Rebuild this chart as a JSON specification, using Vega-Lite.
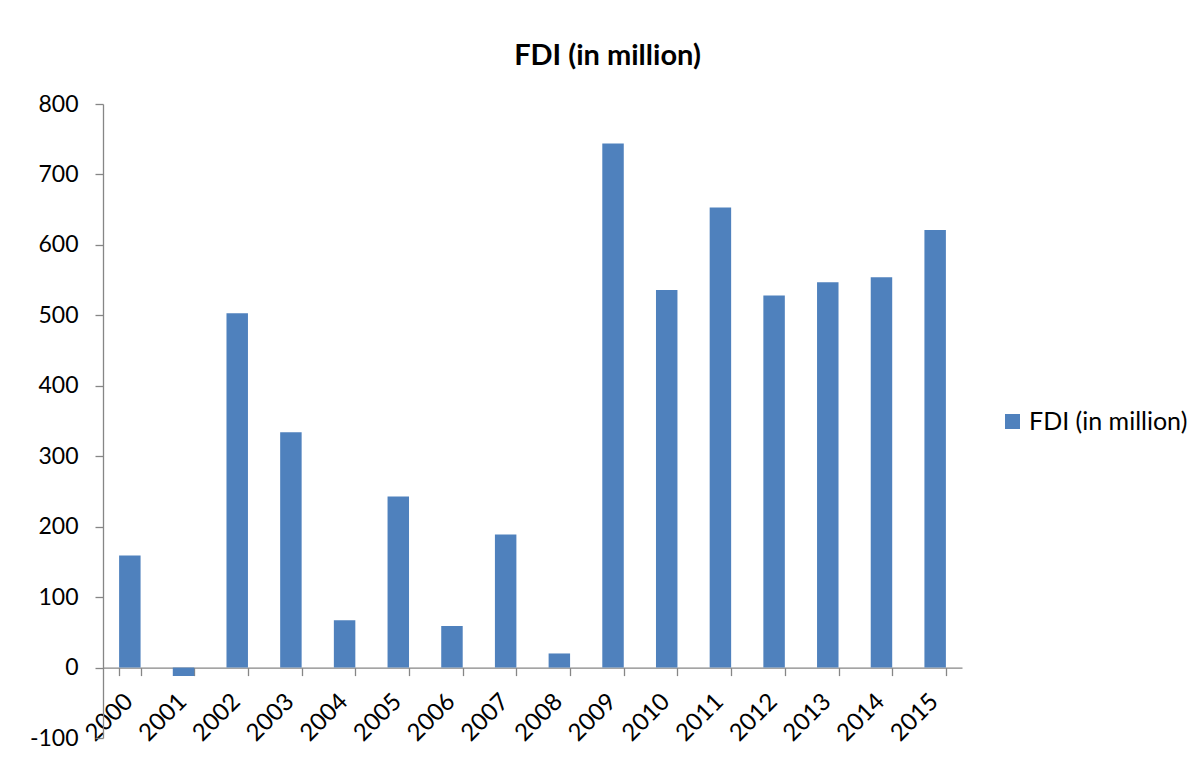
{
  "$schema": "https://vega.github.io/schema/vega-lite/v6.json",
  "width": 859,
  "height": 634,
  "autosize": {"type": "none"},
  "padding": {"left": 103, "top": 104, "right": 234, "bottom": 21},
  "background": "white",
  "title": {
    "text": "FDI (in million)",
    "font": "Lato",
    "fontSize": 29,
    "fontWeight": "bold",
    "color": "#000000",
    "anchor": "middle",
    "dx": 75,
    "offset": 22
  },
  "data": {
    "values": [
      {"year": "2000", "series": "FDI (in million)", "value": 159},
      {"year": "2001", "series": "FDI (in million)", "value": -12},
      {"year": "2002", "series": "FDI (in million)", "value": 503},
      {"year": "2003", "series": "FDI (in million)", "value": 334},
      {"year": "2004", "series": "FDI (in million)", "value": 67},
      {"year": "2005", "series": "FDI (in million)", "value": 243},
      {"year": "2006", "series": "FDI (in million)", "value": 59},
      {"year": "2007", "series": "FDI (in million)", "value": 189},
      {"year": "2008", "series": "FDI (in million)", "value": 20},
      {"year": "2009", "series": "FDI (in million)", "value": 744},
      {"year": "2010", "series": "FDI (in million)", "value": 536},
      {"year": "2011", "series": "FDI (in million)", "value": 653},
      {"year": "2012", "series": "FDI (in million)", "value": 528},
      {"year": "2013", "series": "FDI (in million)", "value": 547},
      {"year": "2014", "series": "FDI (in million)", "value": 554},
      {"year": "2015", "series": "FDI (in million)", "value": 621}
    ]
  },
  "mark": {"type": "bar"},
  "encoding": {
    "x": {
      "field": "year",
      "type": "nominal",
      "sort": null,
      "scale": {"paddingInner": 0.6, "paddingOuter": 0.3},
      "axis": {
        "title": null,
        "offset": -70.4,
        "tickBand": "extent",
        "labelAngle": -45,
        "labelAlign": "right",
        "labelBaseline": "middle",
        "labelFont": "Lato",
        "labelFontSize": 24,
        "labelColor": "#000000",
        "labelPadding": 22,
        "labelOffset": -1,
        "domainColor": "#868686",
        "tickColor": "#868686",
        "tickSize": 8,
        "domainWidth": 1.3,
        "tickWidth": 1.3
      }
    },
    "y": {
      "field": "value",
      "type": "quantitative",
      "scale": {"domain": [-100, 800], "nice": false, "zero": false},
      "axis": {
        "title": null,
        "values": [-100, 0, 100, 200, 300, 400, 500, 600, 700, 800],
        "labelExpr": "'' + datum.value",
        "grid": false,
        "labelFont": "Lato",
        "labelFontSize": 23,
        "labelColor": "#000000",
        "labelPadding": 17,
        "domainColor": "#868686",
        "tickColor": "#868686",
        "tickSize": 8,
        "domainWidth": 1.3,
        "tickWidth": 1.3
      }
    },
    "color": {
      "field": "series",
      "type": "nominal",
      "scale": {"range": ["#4F81BD"]},
      "legend": {
        "title": null,
        "orient": "none",
        "legendX": 897,
        "legendY": 305,
        "symbolType": "square",
        "symbolSize": 225,
        "symbolStrokeWidth": 0,
        "labelFont": "Lato",
        "labelFontSize": 25,
        "labelColor": "#000000",
        "labelOffset": 4
      }
    }
  },
  "config": {
    "view": {"stroke": null}
  }
}
